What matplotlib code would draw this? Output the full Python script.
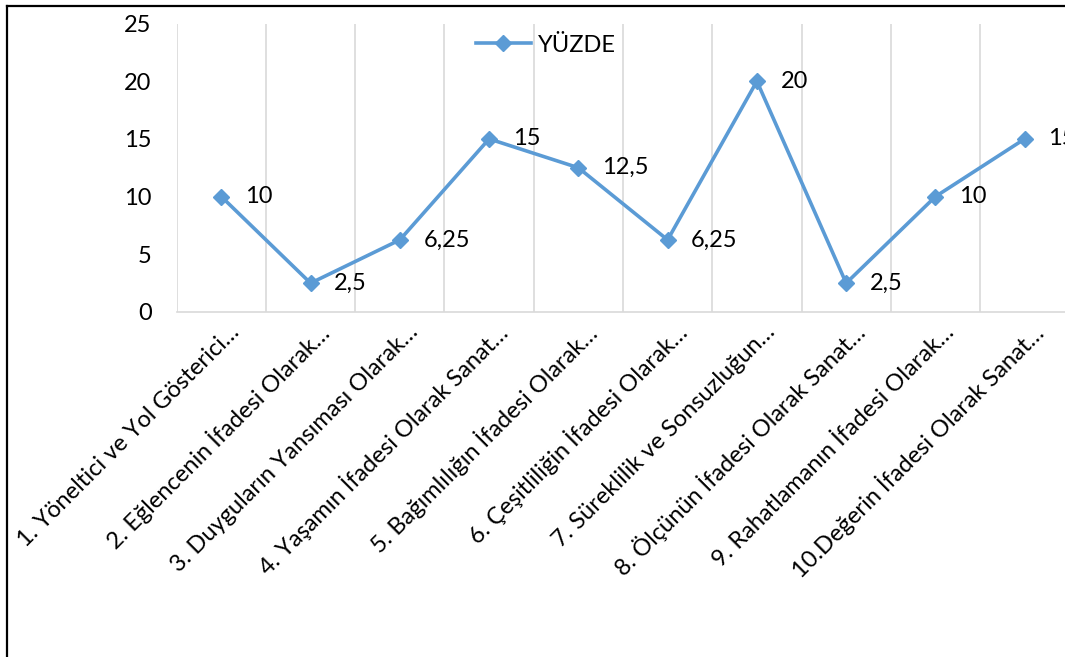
import matplotlib
matplotlib.use("Agg")
import matplotlib.pyplot as plt
from matplotlib.lines import Line2D
from matplotlib.transforms import ScaledTranslation

categories = [
    "1. Yöneltici ve Yol Gösterici…",
    "2. Eğlencenin İfadesi Olarak…",
    "3. Duyguların Yansıması Olarak…",
    "4. Yaşamın İfadesi Olarak Sanat…",
    "5. Bağımlılığın İfadesi Olarak…",
    "6. Çeşitliliğin İfadesi Olarak…",
    "7. Süreklilik ve Sonsuzluğun…",
    "8. Ölçünün İfadesi Olarak Sanat…",
    "9. Rahatlamanın İfadesi Olarak…",
    "10.Değerin İfadesi Olarak Sanat…",
]
yuzde = [10, 2.5, 6.25, 15, 12.5, 6.25, 20, 2.5, 10, 15]
y_ticks = [0, 5, 10, 15, 20, 25]

plt.rcParams["font.family"] = ["Lato", "DejaVu Sans"]
FS = 17

W, H = 1065, 657
fig = plt.figure(figsize=(W / 100, H / 100), dpi=100)

# plot area in pixels (left, top, right, bottom)
x0, y0, x1, y1 = 176.7, 23.5, 1069.3, 312
ax = fig.add_axes([x0 / W, 1 - y1 / H, (x1 - x0) / W, (y1 - y0) / H])

blue = "#5B9BD5"
xs = list(range(len(yuzde)))
ax.plot(xs, yuzde, color=blue, lw=2.6, marker="D", ms=8,
        label="YÜZDE", clip_on=False, zorder=3)

for x, v in zip(xs, yuzde):
    txt = f"{v:g}".replace(".", ",")
    ax.annotate(txt, (x, v), xytext=(17, 0), textcoords="offset points",
                ha="left", va="center", fontsize=FS, color="black",
                annotation_clip=False)

ax.set_xlim(-0.5, len(yuzde) - 0.5)
ax.set_ylim(0, 25)
ax.set_yticks(y_ticks)
ax.tick_params(axis="y", length=0, pad=18, labelsize=FS)

ax.set_xticks(xs)
ax.set_xticklabels(categories, rotation=45, ha="right", va="center",
                   rotation_mode="anchor", fontsize=FS)
ax.set_xticks([i - 0.5 for i in range(len(yuzde) + 1)], minor=True)
ax.tick_params(axis="x", which="both", length=0, pad=12)
shift = ScaledTranslation(15 / 100, 0, fig.dpi_scale_trans)
for lab in ax.get_xticklabels():
    lab.set_transform(lab.get_transform() + shift)

ax.grid(False)
ax.xaxis.grid(True, which="minor", color="#D9D9D9", lw=1.2)
for side in ["left", "right", "top"]:
    ax.spines[side].set_visible(False)
ax.spines["bottom"].set_color("#D9D9D9")
ax.spines["bottom"].set_linewidth(1.2)

ax.legend(loc="center", bbox_to_anchor=(546 / W, 1 - 45 / H),
          bbox_transform=fig.transFigure, frameon=False, fontsize=FS,
          handlelength=2.3, handletextpad=0.3, borderpad=0)

# outer frame (left and top edges)
fig.add_artist(Line2D([7 / W, 7 / W], [0, 1 - 6 / H], color="black",
                      lw=1.6, transform=fig.transFigure))
fig.add_artist(Line2D([7 / W, 1], [1 - 6 / H, 1 - 6 / H], color="black",
                      lw=1.6, transform=fig.transFigure))

fig.savefig("out.png", dpi=100)
